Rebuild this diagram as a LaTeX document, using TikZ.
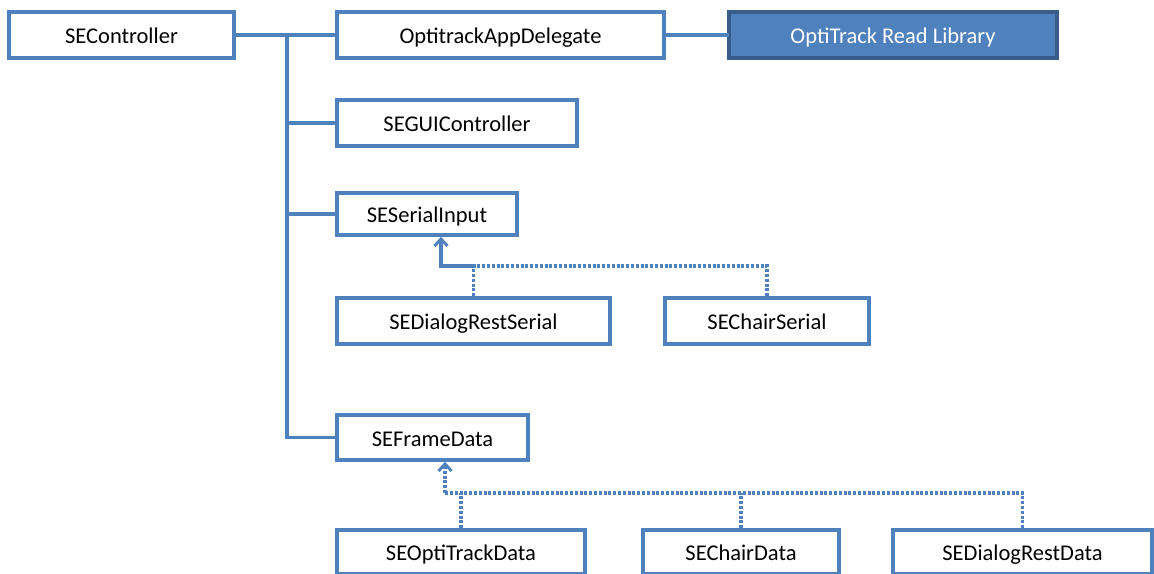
\documentclass[tikz,border=0pt]{standalone}
\usepackage{fontspec}
\setmainfont{Carlito}
\usepackage{tikz}
\usetikzlibrary{arrows.meta}
\definecolor{custcol_4f_81_bd}{RGB}{79, 129, 189}
\definecolor{custcol_38_5d_8a}{RGB}{56, 93, 138}
\begin{document}
\begin{tikzpicture}[x=1pt,y=-1pt,line cap=rect,
    classbox/.style={draw=custcol_4f_81_bd, line width=3.6pt, fill=white, inner sep=0pt,
      minimum height=46pt, text height=17pt, text depth=0pt,
      font=\fontsize{22.5pt}{22.5pt}\selectfont},
    libbox/.style={classbox, draw=custcol_38_5d_8a, fill=custcol_4f_81_bd, text=white},
    link/.style={draw=custcol_4f_81_bd, line width=3.6pt},
    dotlink/.style={link, line cap=butt, dash pattern=on 3pt off 1.8pt},
    inherit/.style={-{Straight Barb[length=7pt,width=13pt,line width=3pt]}}]
  \useasboundingbox (0,0) rectangle (1154,573);
  % top row
  \node[classbox, minimum width=225pt] (ctrl) at (121.5,35) {SEController};
  \node[classbox, minimum width=327pt] (appdel) at (500.5,35) {OptitrackAppDelegate};
  \node[libbox, minimum width=328pt] (lib) at (893,35) {OptiTrack Read Library};
  % owned by SEController
  \node[classbox, minimum width=240pt] (gui) at (457,123) {SEGUIController};
  \node[classbox, minimum width=180pt, minimum height=42pt] (serial) at (427,214) {SESerialInput};
  \node[classbox, minimum width=191pt, minimum height=45pt] (frame) at (432.5,437.5) {SEFrameData};
  % serial subclasses
  \node[classbox, minimum width=273pt] (dserial) at (473.5,321) {SEDialogRestSerial};
  \node[classbox, minimum width=204pt] (cserial) at (767,321) {SEChairSerial};
  % frame data subclasses
  \node[classbox, minimum width=248pt, minimum height=44pt] (odata) at (461,552) {SEOptiTrackData};
  \node[classbox, minimum width=196pt, minimum height=44pt] (cdata) at (741,552) {SEChairData};
  \node[classbox, minimum width=259pt, minimum height=44pt] (ddata) at (1022.5,552) {SEDialogRestData};
  % composition lines
  \coordinate (trunk) at (287,35);
  \draw[link] (ctrl.east) -- (appdel.west);
  \draw[link] (appdel.east) -- (lib.west);
  \draw[link] (trunk) -- (trunk |- frame.west) -- (frame.west);
  \draw[link] (trunk |- gui.west) -- (gui.west);
  \draw[link] (trunk |- serial.west) -- (serial.west);
  % inheritance, serial
  \coordinate (sjoin) at (441,266);
  \draw[dotlink] (dserial.north) -- (dserial.north |- sjoin);
  \draw[dotlink] (cserial.north) |- (dserial.north |- sjoin);
  \draw[link, inherit] (dserial.north |- sjoin) -- (sjoin) -- (sjoin |- serial.south);
  % inheritance, frame data
  \coordinate (fjoin) at (445,493);
  \draw[dotlink] (odata.north) -- (odata.north |- fjoin);
  \draw[dotlink] (cdata.north) -- (cdata.north |- fjoin);
  \draw[dotlink] (ddata.north) |- (fjoin);
  \draw[dotlink, inherit] (fjoin) -- (fjoin |- frame.south);
\end{tikzpicture}
\end{document}
